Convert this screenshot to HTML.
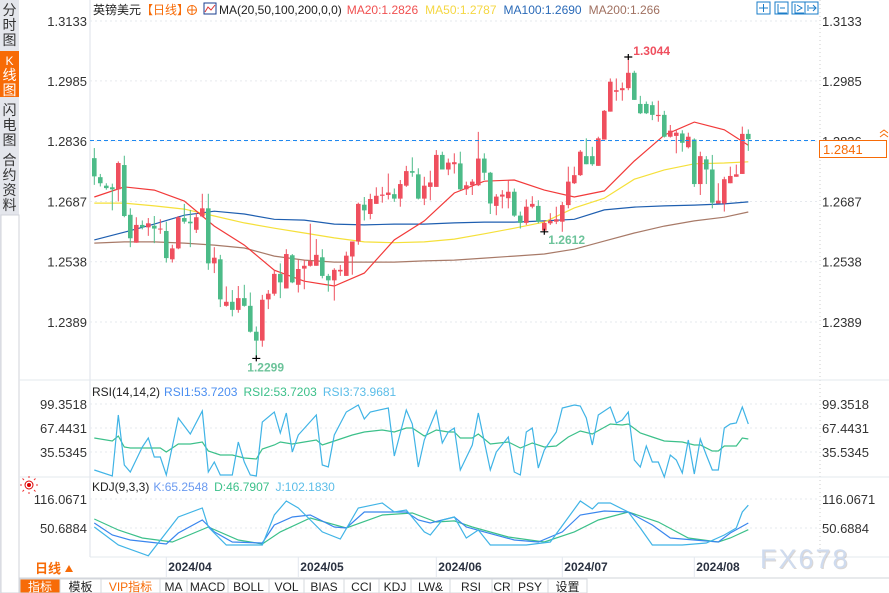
<!DOCTYPE html>
<html><head><meta charset="utf-8"><style>
body{margin:0;background:#fff;width:889px;height:593px;overflow:hidden;font-family:"Liberation Sans","Noto Sans CJK SC",sans-serif}
svg{display:block}
text{font-family:"Liberation Sans","Noto Sans CJK SC",sans-serif}
</style></head><body>
<svg id="c" width="889" height="593" viewBox="0 0 889 593">
<rect width="889" height="593" fill="#fff"/>
<g>
<rect x="0" y="0" width="19" height="593" fill="#e4e6ec"/>
<rect x="1" y="215" width="18" height="378" fill="#fff" stroke="#d0d3da"/>
<g><text x="9.5" y="15" font-size="14" text-anchor="middle" fill="#333">分</text><text x="9.5" y="30" font-size="14" text-anchor="middle" fill="#333">时</text><text x="9.5" y="45" font-size="14" text-anchor="middle" fill="#333">图</text></g>
<g><rect x="0" y="51" width="19" height="46" fill="#f76b07"/><text x="9.5" y="65" font-size="12" text-anchor="middle" fill="#fff">K</text><text x="9.5" y="80" font-size="14" text-anchor="middle" fill="#fff">线</text><text x="9.5" y="95" font-size="14" text-anchor="middle" fill="#fff">图</text></g>
<g><text x="9.5" y="115" font-size="14" text-anchor="middle" fill="#333">闪</text><text x="9.5" y="130" font-size="14" text-anchor="middle" fill="#333">电</text><text x="9.5" y="145" font-size="14" text-anchor="middle" fill="#333">图</text></g>
<g><text x="9.5" y="165" font-size="14" text-anchor="middle" fill="#333">合</text><text x="9.5" y="180" font-size="14" text-anchor="middle" fill="#333">约</text><text x="9.5" y="195" font-size="14" text-anchor="middle" fill="#333">资</text><text x="9.5" y="210" font-size="14" text-anchor="middle" fill="#333">料</text></g>
</g>
<line x1="90" y1="0" x2="90" y2="557" stroke="#dde2e8"/>
<line x1="820" y1="0" x2="820" y2="557" stroke="#ccc" stroke-dasharray="1,3"/>
<line x1="19" y1="380" x2="889" y2="380" stroke="#e3e8ee"/>
<line x1="19" y1="477" x2="889" y2="477" stroke="#e3e8ee"/>
<line x1="90" y1="557" x2="889" y2="557" stroke="#e3e8ee"/>
<g id="grid"></g><g id="ma"></g><g id="candles"></g><g id="ind"></g><g id="labels"></g>
<text y="14" font-size="12"><tspan x="93" fill="#222">英镑美元</tspan><tspan fill="#f76b07">【日线】</tspan></text>
<g><circle cx="192" cy="10" r="4.5" fill="none" stroke="#f76b07"/><line x1="187.5" y1="10" x2="196.5" y2="10" stroke="#f76b07"/><line x1="192" y1="5.5" x2="192" y2="14.5" stroke="#f76b07"/></g>
<g><rect x="204" y="3" width="12" height="11" fill="#fff" stroke="#1a3d8f"/><polyline points="205,12 208,7 211,10 215,5" fill="none" stroke="#d33"/></g>
<text y="14" font-size="12"><tspan x="219" fill="#222">MA(20,50,100,200,0,0)</tspan><tspan dx="5" fill="#f05050">MA20:1.2826</tspan><tspan dx="7" fill="#f5d742">MA50:1.2787</tspan><tspan dx="7" fill="#2a6ab8">MA100:1.2690</tspan><tspan dx="7" fill="#a07060">MA200:1.266</tspan></text>
<g fill="none" stroke="#1a7cc8">
<rect x="757" y="2" width="13" height="12"/><rect x="775" y="2" width="13" height="12"/><rect x="792" y="2" width="13" height="12"/><rect x="805" y="2" width="13" height="12"/>
<path d="M763.5 4v8M759 8h9M778 4v9h9M780 8h5M795 4v9h9M797 5l5 3-5 3M808 5v6M809 8h7M813 5l3 3-3 3"/></g>
<text y="396" font-size="12"><tspan x="92" fill="#222">RSI(14,14,2)</tspan><tspan dx="4" fill="#4a8ef0">RSI1:53.7203</tspan><tspan dx="6" fill="#3cc08a">RSI2:53.7203</tspan><tspan dx="6" fill="#5bbde8">RSI3:73.9681</tspan></text>
<text y="491" font-size="12"><tspan x="92" fill="#222">KDJ(9,3,3)</tspan><tspan dx="4" fill="#6a9af0">K:65.2548</tspan><tspan dx="6" fill="#3cc08a">D:46.7907</tspan><tspan dx="6" fill="#5bbde8">J:102.1830</tspan></text>
<g><circle cx="29" cy="485" r="4" fill="none" stroke="#d00"/><circle cx="29" cy="485" r="2" fill="#d00"/><path d="M22 485h-2M36 485h2M29 478v-2M29 492v2M24 480l-1.5-1.5M34 480l1.5-1.5M24 490l-1.5 1.5M34 490l1.5 1.5" stroke="#e33"/></g>
<line x1="90" y1="140.5" x2="816" y2="140.5" stroke="#1e88f0" stroke-dasharray="4,3"/>
<path d="M880 133l4 -3 4 3M880 137l4 -3 4 3" fill="none" stroke="#f76b07"/>
<g><rect x="819.5" y="140.5" width="67" height="17" fill="#fff" stroke="#f76b07"/><text x="823" y="154" font-size="13" fill="#f76b07">1.2841</text></g>
<g><rect x="20" y="558" width="70" height="20" fill="#fff"/><text x="35" y="573" font-size="13" fill="#f76b07" font-weight="bold">日线</text><path d="M65 572l4-7 4 7z" fill="#f76b07"/></g>
<g id="dates"></g>
<text x="761" y="569" font-size="27" fill="#9a8f88" opacity="0.35" letter-spacing="2">FX678</text>
<text x="760" y="568" font-size="27" fill="#cfdbee" letter-spacing="2">FX678</text>
<line x1="19" y1="578" x2="889" y2="578" stroke="#d0d4da"/>
<g id="toolbar"></g>
</svg>
<script>
const opens =[1.2794,1.2747,1.2726,1.2722,1.2717,1.2777,1.2654,1.2585,1.2629,1.2623,1.2627,1.2618,1.2614,1.2544,1.2571,1.2646,1.2637,1.2617,1.2650,1.2670,1.2534,1.2544,1.2429,1.2439,1.2419,1.2448,1.2429,1.2365,1.2343,1.2445,1.2459,1.2508,1.2472,1.2554,1.2481,1.2521,1.2528,1.2528,1.2549,1.2503,1.2492,1.2514,1.2503,1.2551,1.2588,1.2679,1.2656,1.2681,1.2701,1.2703,1.2705,1.2694,1.2726,1.2762,1.2754,1.2694,1.2723,1.2723,1.2802,1.2766,1.2779,1.2781,1.2717,1.2727,1.2727,1.2793,1.2758,1.2676,1.2699,1.2695,1.2711,1.2652,1.2634,1.2674,1.2676,1.2615,1.2633,1.2637,1.2637,1.2678,1.2732,1.2752,1.2799,1.2799,1.2775,1.2840,1.2909,1.2958,1.2962,1.2967,1.3005,1.2928,1.2928,1.2925,1.2898,1.2901,1.2847,1.2849,1.2855,1.2821,1.2840,1.2730,1.2791,1.2766,1.2682,1.2682,1.2732,1.2748,1.2755,1.2854];
const highs =[1.2819,1.2755,1.2732,1.2731,1.2786,1.2800,1.2670,1.2648,1.2640,1.2646,1.2651,1.2643,1.2637,1.2580,1.2651,1.2681,1.2666,1.2658,1.2706,1.2706,1.2574,1.2555,1.2477,1.2468,1.2478,1.2481,1.2462,1.2378,1.2456,1.2468,1.2518,1.2534,1.2569,1.2557,1.2543,1.2543,1.2632,1.2594,1.2569,1.2508,1.2522,1.2530,1.2563,1.2588,1.2684,1.2698,1.2706,1.2722,1.2723,1.2756,1.2719,1.2740,1.2775,1.2796,1.2769,1.2748,1.2763,1.2814,1.2810,1.2793,1.2806,1.2810,1.2736,1.2742,1.2859,1.2806,1.2760,1.2705,1.2715,1.2740,1.2719,1.2662,1.2692,1.2700,1.2690,1.2641,1.2658,1.2674,1.2686,1.2773,1.2773,1.2814,1.2843,1.2822,1.2847,1.2913,1.2991,1.2991,1.2981,1.3044,1.3010,1.2948,1.2934,1.2934,1.2936,1.2911,1.2876,1.2865,1.2863,1.2857,1.2843,1.2810,1.2799,1.2802,1.2732,1.2748,1.2773,1.2778,1.2872,1.2865];
const lows  =[1.2728,1.2724,1.2716,1.2665,1.2687,1.2648,1.2574,1.2585,1.2618,1.2602,1.2584,1.2607,1.2536,1.2536,1.2569,1.2632,1.2574,1.2609,1.2648,1.2518,1.2510,1.2426,1.2427,1.2403,1.2412,1.2427,1.2363,1.2299,1.2328,1.2421,1.2454,1.2448,1.2472,1.2485,1.2462,1.2470,1.2526,1.2528,1.2497,1.2464,1.2442,1.2503,1.2503,1.2506,1.2580,1.2640,1.2643,1.2681,1.2684,1.2692,1.2686,1.2674,1.2723,1.2748,1.2692,1.2678,1.2690,1.2723,1.2766,1.2752,1.2756,1.2715,1.2703,1.2703,1.2725,1.2740,1.2656,1.2653,1.2670,1.2670,1.2649,1.2620,1.2629,1.2670,1.2633,1.2612,1.2629,1.2631,1.2612,1.2670,1.2730,1.2750,1.2779,1.2775,1.2775,1.2840,1.2909,1.2936,1.2936,1.2962,1.2938,1.2903,1.2903,1.2888,1.2884,1.2845,1.2845,1.2806,1.2810,1.2818,1.2723,1.2703,1.2730,1.2670,1.2682,1.2662,1.2732,1.2748,1.2755,1.2812];
const closes=[1.2749,1.2732,1.2720,1.2717,1.2782,1.2651,1.2596,1.2629,1.2623,1.2633,1.2620,1.2620,1.2547,1.2571,1.2648,1.2637,1.2633,1.2648,1.2670,1.2534,1.2548,1.2445,1.2439,1.2419,1.2448,1.2429,1.2365,1.2343,1.2444,1.2459,1.2508,1.2487,1.2557,1.2487,1.2520,1.2528,1.2540,1.2555,1.2503,1.2492,1.2518,1.2518,1.2553,1.2588,1.2681,1.2665,1.2693,1.2701,1.2704,1.2709,1.2694,1.2730,1.2762,1.2758,1.2694,1.2726,1.2734,1.2802,1.2766,1.2783,1.2784,1.2717,1.2727,1.2736,1.2793,1.2758,1.2682,1.2699,1.2704,1.2711,1.2652,1.2634,1.2674,1.2681,1.2637,1.2634,1.2639,1.2643,1.2678,1.2736,1.2752,1.2810,1.2779,1.2779,1.2843,1.2911,1.2983,1.2962,1.2967,1.3005,1.2938,1.2905,1.2905,1.2901,1.2901,1.2847,1.2862,1.2857,1.2832,1.2847,1.2730,1.2799,1.2766,1.2684,1.2689,1.2742,1.2750,1.2754,1.2854,1.2841];
const maIdx =[0,5,10,15,20,25,30,35,40,45,50,55,60,65,70,75,80,85,90,95,100,105,109];
const ma20  =[1.2698,1.2723,1.2715,1.2688,1.2626,1.2579,1.2517,1.2490,1.2478,1.2510,1.2592,1.2639,1.2708,1.2737,1.2740,1.2715,1.2698,1.2713,1.2787,1.2851,1.2883,1.2864,1.2826];
const ma50  =[1.2683,1.2683,1.2676,1.2668,1.2651,1.2634,1.2621,1.2609,1.2597,1.2587,1.2585,1.2587,1.2594,1.2607,1.2621,1.2636,1.2671,1.2695,1.2742,1.2765,1.2780,1.2782,1.2785];
const ma100 =[1.2592,1.2611,1.2631,1.2653,1.2663,1.2656,1.2643,1.2641,1.2631,1.2629,1.2631,1.2631,1.2634,1.2636,1.2636,1.2639,1.2643,1.2666,1.2673,1.2676,1.2678,1.2681,1.2686];
const ma200 =[1.2584,1.2587,1.2587,1.2584,1.2579,1.2572,1.2552,1.2542,1.2537,1.2537,1.2537,1.2540,1.2542,1.2547,1.2552,1.2557,1.2569,1.2589,1.2609,1.2626,1.2639,1.2648,1.2661];
const priceTicks=[1.3133,1.2985,1.2836,1.2687,1.2538,1.2389];
const rsi3Idx=[0,3,4,5,6,8,9,10,11,12,14,16,18,19,20,21,23,24,25,26,27,28,30,31,32,33,34,37,38,39,40,42,44,45,46,49,50,52,53,54,55,57,58,59,60,61,63,64,66,67,69,70,71,72,73,74,75,77,78,80,81,82,83,84,86,87,88,89,90,91,92,93,94,95,96,97,98,99,100,101,102,103,104,105,106,107,108,109];
const rsi3Val=[11.6,3.6,84.7,18.3,9.0,42.2,54.2,28.9,28.9,5.0,80.7,59.5,90.0,9.0,22.2,5.0,5.0,48.8,22.2,5.0,3.6,75.4,88.7,60.8,87.4,35.5,58.1,84.7,18.3,15.6,58.1,88.7,98.0,79.4,88.7,94.0,30.2,91.4,72.8,15.6,51.5,90.0,47.5,62.1,67.4,11.6,44.8,87.4,11.6,35.5,55.5,9.0,5.0,62.1,67.4,14.3,38.2,62.1,94.0,98.0,96.7,80.7,44.8,84.7,95.4,74.1,78.1,88.7,24.9,15.6,43.5,22.2,22.2,2.3,31.5,24.9,7.6,51.5,6.3,52.8,31.5,11.6,11.6,67.4,72.8,74.1,95.4,72.8];
const rsiIdx=[0,3,4,5,6,9,11,12,14,16,18,19,21,23,25,27,28,30,31,33,35,37,38,39,43,45,48,50,52,53,55,57,59,60,61,63,64,66,69,71,73,75,77,79,81,83,86,88,89,91,93,95,98,100,101,103,104,105,107,108,109];
const rsiVal=[54.2,50.2,56.8,42.2,40.8,40.8,40.8,35.5,46.2,46.2,48.8,36.9,31.5,31.5,27.6,26.2,39.5,44.8,48.8,46.2,48.8,51.5,44.8,47.5,58.1,62.1,64.8,62.1,67.4,67.4,56.8,64.8,62.1,62.1,54.2,54.2,59.5,46.2,48.8,40.8,47.5,42.2,43.5,55.5,63.4,59.5,72.8,71.4,72.8,60.8,55.5,50.2,48.8,44.8,44.8,36.9,36.9,43.5,43.5,54.2,52.8];
const rsiTicks=[99.3518,67.4431,35.5345];
const kIdx=[0,3,6,12,14,18,20,23,28,30,33,36,40,42,45,48,52,54,56,58,60,62,65,70,74,78,81,85,89,93,96,100,104,106,109];
const kVal=[62.0,35.0,23.7,14.7,39.4,68.8,41.8,19.2,16.9,57.5,75.5,80.0,53.0,50.7,86.8,86.8,86.8,68.8,62.0,68.8,75.5,53.0,41.8,23.7,19.2,41.8,80.0,89.0,86.8,57.5,28.2,23.7,19.2,39.4,62.0];
const dIdx=[0,4,8,13,19,24,28,31,36,42,48,53,57,60,63,69,75,80,84,89,94,99,104,106,109];
const dVal=[71.0,46.2,28.2,19.2,53.0,23.7,14.7,41.8,73.3,50.7,80.1,84.6,64.3,66.6,53.0,30.5,19.2,41.8,68.8,86.8,64.3,28.2,19.2,28.2,46.8];
const jIdx=[0,4,9,14,18,19,22,28,30,32,34,38,41,44,48,50,52,55,56,58,60,62,64,66,72,76,81,83,84,86,89,91,93,98,102,105,107,108,109];
const jVal=[53.0,12.4,-12,75.5,95.8,53.0,12.4,12.4,80.0,111.6,95.8,41.8,26.0,95.8,107.0,86.8,91.3,41.8,35.0,68.8,75.5,28.2,46.2,12.4,12.4,19.2,111.6,93.5,107.0,107.0,86.8,50.7,12.4,12.4,16.9,35.0,50.7,86.8,102.2];
const kdjTicks=[116.0671,50.6884];
const dateLabels=["2024/04","2024/05","2024/06","2024/07","2024/08"];
const dateIdx=[12,34,57,78,100];
const toolTabs=["指标","模板","VIP指标","MA","MACD","BOLL","VOL","BIAS","CCI","KDJ","LW&","RSI","CR","PSY","设置"];
const toolTabW=[40,41,59,27,41,41,35,40,35,32,39,42,20,36,39];

const NS="http://www.w3.org/2000/svg";
const xI=i=>94.3+6*i;
const yP=p=>21+(1.3133-p)*4046;
const yR=v=>404+(99.3518-v)*0.7522;
const yK=v=>Math.min(556,Math.max(479,499+(116.0671-v)*0.4436));
function mk(tag,attrs,parent){const e=document.createElementNS(NS,tag);for(const k in attrs)e.setAttribute(k,attrs[k]);parent.appendChild(e);return e;}
const G=id=>document.getElementById(id);

priceTicks.forEach(p=>{
  const y=yP(p);
  const g=mk('line',{x1:90,x2:820,y1:y,y2:y,stroke:'#e6e9ee','stroke-dasharray':'2,3'},G('grid'));
  
  
  const t1=mk('text',{x:87,y:y+5,'font-size':13,'text-anchor':'end',fill:'#333'},G('labels'));t1.textContent=p.toFixed(4);
  
  
  const t2=mk('text',{x:822,y:y+5,'font-size':13,fill:'#333'},G('labels'));t2.textContent=p.toFixed(4);
  
  
});
function subTicks(ticks,yf,nm){ticks.forEach(v=>{const y=yf(v);
  const g=mk('line',{x1:90,x2:820,y1:y,y2:y,stroke:'#e6e9ee','stroke-dasharray':'2,3'},G('grid'));
  
  
  const t1=mk('text',{x:87,y:y+5,'font-size':13,'text-anchor':'end',fill:'#333'},G('labels'));t1.textContent=v.toFixed(4);
  
  
  const t2=mk('text',{x:822,y:y+5,'font-size':13,fill:'#333'},G('labels'));t2.textContent=v.toFixed(4);
  
  
});}
subTicks(rsiTicks,yR,'rsi');subTicks(kdjTicks,yK,'kdj');

function line(idx,vals,yf,color,nm,parent){
  const pts=idx.map((i,k)=>xI(i).toFixed(1)+','+yf(vals[k]).toFixed(1)).join(' ');
  const l=mk('polyline',{points:pts,fill:'none',stroke:color,'stroke-width':1.2},parent);
  
  
}
line(maIdx,ma200,yP,'#a87a68','ma200-line',G('ma'));
line(maIdx,ma100,yP,'#1f5fb0','ma100-line',G('ma'));
line(maIdx,ma50,yP,'#f5e03a','ma50-line',G('ma'));
line(maIdx,ma20,yP,'#f23a3a','ma20-line',G('ma'));

closes.forEach((c,i)=>{
  const o=opens[i],up=c>=o,col=up?'#ef4f5e':'#4cbb88',x=xI(i);
  const w=mk('line',{x1:x,x2:x,y1:yP(highs[i]),y2:yP(lows[i]),stroke:col,'stroke-width':1},G('candles'));
  
  
  const t=yP(Math.max(o,c)),b=yP(Math.min(o,c));
  const r=mk('rect',{x:x-2.3,y:t,width:4.6,height:Math.max(1,b-t),fill:col},G('candles'));
  
  
});
function marker(i,p,label,col,dx,dy){
  const x=xI(i),y=yP(p);
  const m=mk('path',{d:`M${x-4} ${y}h8M${x} ${y-3}v6`,stroke:'#000','stroke-width':1.2},G('labels'));
  
  
  const t=mk('text',{x:x+dx,y:y+dy,'font-size':12,'font-weight':'bold',fill:col},G('labels'));t.textContent=label;
  
  
}
marker(27,lows[27],'1.2299','#6cc39a',-9,13);
marker(89,highs[89],'1.3044','#ef4f5e',5,-2);
marker(75,lows[75],'1.2612','#6cc39a',4,12);

line(rsiIdx,rsiVal,yR,'#3cc08a','rsi1-line',G('ind'));
line(rsi3Idx,rsi3Val,yR,'#40b4e6','rsi3-line',G('ind'));
line(dIdx,dVal,yK,'#3cc08a','kdj-d-line',G('ind'));
line(kIdx,kVal,yK,'#3a86ee','kdj-k-line',G('ind'));
line(jIdx,jVal,yK,'#40b4e6','kdj-j-line',G('ind'));

dateLabels.forEach((d,k)=>{
  const x=xI(dateIdx[k]);
  const l=mk('line',{x1:x,x2:x,y1:557,y2:577,stroke:'#e3e8ee'},G('dates'));
  
  
  const t=mk('text',{x:x+2,y:571,'font-size':12,'font-weight':'bold',fill:'#2a3140'},G('dates'));t.textContent=d;
  
  
});

let tx=20;
toolTabs.forEach((name,k)=>{
  const w=toolTabW[k];
  const g=mk('g',{},G('toolbar'));
  
  
  mk('rect',{x:tx,y:579,width:w,height:14,fill:k===0?'#f76b07':'#fff',stroke:'#d6d9de'},g);
  const t=mk('text',{x:tx+w/2,y:591,'font-size':12,'text-anchor':'middle',fill:k===0?'#fff':(k===2?'#f76b07':'#222'),'font-family':'"Liberation Serif","Noto Serif CJK SC",serif'},g);
  t.textContent=name;
  tx+=w;
});
</script>
</body></html>
